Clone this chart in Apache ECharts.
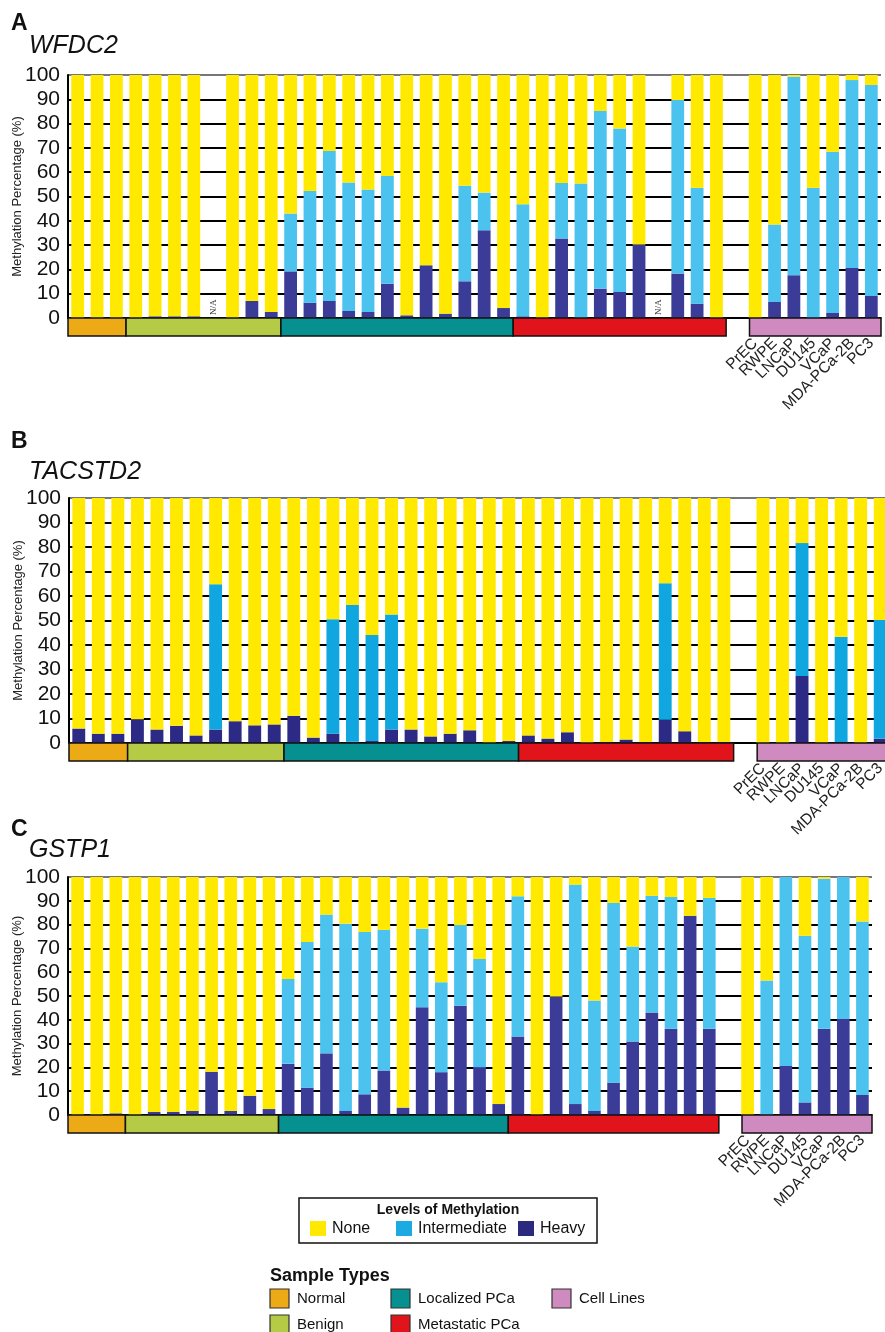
<!DOCTYPE html>
<html><head><meta charset="utf-8">
<script src="https://cdn.jsdelivr.net/npm/echarts@6/dist/echarts.min.js"></script>
<style>html,body{margin:0;padding:0;background:#fff}#c{width:885px;height:1332px}</style>
</head><body><div id="c"></div>
<script>
// ---------- data ----------
const panelLetters = ['A', 'B', 'C'];
const geneNames = ['WFDC2', 'TACSTD2', 'GSTP1'];
const levelNames = ['None', 'Intermediate', 'Heavy'];
const groupNames = ['Normal', 'Benign', 'Localized PCa', 'Metastatic PCa', 'Cell Lines'];
const groupSizes = [3, 8, 12, 11];
const cellLines = ['PrEC', 'RWPE', 'LNCaP', 'DU145', 'VCaP', 'MDA-PCa-2B', 'PC3'];
const yAxisName = 'Methylation Percentage (%)';

// 42 positions: 34 tissue samples, 1 empty slot, 7 cell lines. null = no bar
// Heavy methylation (%)
const heavyA = [0, 0, 0, 0, 0.7, 0.7, 0.7, null, 0, 7.0, 2.5,
  19.2, 6.3, 7.0, 2.9, 2.5, 14.1, 1.1, 21.7, 1.8, 15.1, 36.1, 4.1,
  0.7, 0, 32.7, 0, 12.1, 10.7, 30.2, null, 18.3, 5.9, 0,
  null,
  0, 6.6, 17.6, 0, 2.1, 20.6, 9.1];
// Intermediate methylation (%)
const interA = [0, 0, 0, 0, 0, 0, 0, null, 0, 0, 0,
  23.8, 46.0, 61.7, 52.9, 50.4, 44.3, 0, 0, 0, 39.3, 15.5, 0,
  46.1, 0, 22.9, 55.4, 73.1, 67.3, 0, null, 71.4, 47.7, 0,
  null,
  0, 31.9, 81.7, 53.6, 66.3, 77.3, 86.8];
const naA = [7, 30];

const heavyB = [5.9, 3.8, 3.8, 9.7, 5.5, 7.0, 3.1, 5.5, 8.9, 7.2, 7.6,
  11.1, 2.2, 3.8, 0.5, 0.8, 5.5, 5.5, 2.7, 3.8, 5.2, 0, 0.8,
  3.1, 1.8, 4.4, 0, 0.4, 1.4, 0.4, 9.5, 4.8, 0.4, 0.4,
  null,
  0, 0, 27.3, 0, 0.4, 0, 1.8];
const interB = [0, 0, 0, 0, 0, 0, 0, 59.3, 0, 0, 0,
  0, 0, 46.7, 55.8, 43.3, 47.0, 0, 0, 0, 0, 0, 0,
  0, 0, 0, 0, 0, 0, 0, 55.7, 0, 0, 0,
  null,
  0, 0, 54.3, 0, 43.0, 0, 48.4];
const naB = [];

const heavyC = [0, 0, 0.7, 0, 1.3, 1.3, 1.7, 18.2, 1.7, 8.1, 2.5,
  21.5, 11.5, 25.9, 1.7, 8.7, 18.7, 3.1, 45.3, 18.0, 45.9, 20.1, 4.6,
  33.0, 0, 49.8, 4.6, 1.7, 13.6, 30.9, 43.1, 36.2, 83.7, 36.2,
  null,
  0, 0, 20.6, 5.3, 36.2, 40.3, 8.4];
const interC = [0, 0, 0, 0, 0, 0, 0, 0, 0, 0, 0,
  35.6, 61.2, 58.3, 78.7, 68.2, 59.1, 0, 33.0, 37.8, 33.9, 45.4, 0,
  58.9, 0, 0, 92.2, 46.4, 75.5, 39.9, 49.0, 55.4, 0, 55.0,
  null,
  0, 56.5, 79.4, 70.0, 63.1, 59.7, 72.9];
const naC = [];

// ---------- styles ----------
const FONT = 'Liberation Sans, Arial, Helvetica, sans-serif';
const colNone = '#FFE900';
const colInter = ['#4CC3EF', '#10A7E0', '#4CC3EF'];
const colHeavy = ['#3A3C98', '#2D2A85', '#3A3C98'];
const groupColors = ['#EDAA17', '#B5CB45', '#06908F', '#E2141B', '#CF8BBF'];
const grids = [
  { left: 68, top: 75, width: 813, height: 243 },
  { left: 69, top: 498, width: 821, height: 245 },
  { left: 68, top: 877, width: 804, height: 238 }
];
const titleY = [[12, 34], [430, 460], [818, 838]];

// ---------- build ----------
const categories = [];
groupSizes.forEach((n, g) => { for (let i = 1; i <= n; i++) categories.push(groupNames[g] + ' ' + i); });
categories.push('(gap)');
cellLines.forEach(c => categories.push(c));

// group spans [start, end, colourIndex]
const spans = [];
let s0 = 0;
groupSizes.forEach((n, g) => { spans.push([s0, s0 + n - 1, g]); s0 += n; });
spans.push([s0 + 1, s0 + cellLines.length, 4]);

const heavy = [heavyA, heavyB, heavyC];
const inter = [interA, interB, interC];
const na = [naA, naB, naC];

const option = {
  animation: false,
  backgroundColor: '#fff',
  textStyle: { fontFamily: FONT },
  grid: grids.map(g => Object.assign({ containLabel: false, outerBoundsMode: 'none' }, g)),
  xAxis: grids.map((g, k) => ({
    type: 'category', gridIndex: k, data: categories,
    axisLine: { show: true, lineStyle: { color: '#000', width: 1.5 } },
    axisTick: { show: false },
    axisLabel: {
      interval: 0, rotate: 45, margin: 23, fontSize: 15.5, color: '#222', fontFamily: FONT,
      formatter: v => cellLines.includes(v) ? v : ''
    },
    splitLine: { show: false }
  })),
  yAxis: grids.map((g, k) => ({
    type: 'value', gridIndex: k, min: 0, max: 100, interval: 10,
    name: yAxisName, nameLocation: 'middle', nameRotate: 90, nameGap: 44, nameMoveOverlap: false,
    nameTextStyle: { fontSize: 13, color: '#222', fontFamily: FONT },
    axisLine: { show: true, lineStyle: { color: '#000', width: 2 } },
    axisTick: { show: false },
    axisLabel: { fontSize: 21, color: '#111', margin: 8, fontFamily: FONT },
    splitLine: { show: true, lineStyle: { color: ['#000','#000','#000','#000','#000','#000','#000','#000','#000','#000','#777'], width: 2 } }
  })),
  graphic: [],
  series: []
};

grids.forEach((g, k) => {
  const none = heavy[k].map((h, i) => h == null ? null : +(100 - h - inter[k][i]).toFixed(1));
  const common = { type: 'bar', xAxisIndex: k, yAxisIndex: k, stack: 'p' + k, barCategoryGap: '34%' };
  option.series.push(Object.assign({ name: levelNames[2], data: heavy[k], itemStyle: { color: colHeavy[k] } }, common));
  option.series.push(Object.assign({ name: levelNames[1], data: inter[k], itemStyle: { color: colInter[k] } }, common));
  option.series.push(Object.assign({ name: levelNames[0], data: none, itemStyle: { color: colNone } }, common));
  // sample-type boxes below the axis
  option.series.push({
    type: 'custom', xAxisIndex: k, yAxisIndex: k, z: 5, clip: false, silent: true,
    data: spans,
    renderItem: (params, api) => {
      const a = api.value(0), b = api.value(1), c = api.value(2);
      const bw = api.size([1, 0])[0];
      const p0 = api.coord([a, 0]), p1 = api.coord([b, 0]);
      const inset = c === 4 ? 4 : 0;
      return {
        type: 'rect',
        shape: { x: p0[0] - bw / 2 + inset, y: p0[1], width: p1[0] - p0[0] + bw - inset, height: 18 },
        style: { fill: groupColors[c], stroke: '#111', lineWidth: 1.5 }
      };
    }
  });
  if (na[k].length) {
    option.series.push({
      type: 'custom', xAxisIndex: k, yAxisIndex: k, z: 5, clip: false, silent: true,
      data: na[k].map(i => [i, 0]),
      renderItem: (params, api) => {
        const p = api.coord([api.value(0), 0]);
        return {
          type: 'text', x: p[0], y: p[1] - 3, rotation: Math.PI / 2,
          style: { text: 'N/A', fontSize: 9, fontFamily: 'Liberation Serif, DejaVu Serif, serif', fill: '#333', align: 'left', verticalAlign: 'middle' }
        };
      }
    });
  }
  option.graphic.push({ type: 'text', left: 11, top: titleY[k][0], style: { text: panelLetters[k], fontSize: 23, fontWeight: 'bold', fontFamily: FONT, fill: '#111' } });
  option.graphic.push({ type: 'text', left: 29, top: titleY[k][1], style: { text: geneNames[k], fontSize: 25, fontStyle: 'italic', fontFamily: FONT, fill: '#111' } });
});

// ---------- legends ----------
const legendLevelColors = [colNone, '#1BAAE2', '#2B2A7F'];
const lv = [];
lv.push({ type: 'rect', shape: { x: 299, y: 1198, width: 298, height: 45 }, style: { fill: '#fff', stroke: '#111', lineWidth: 1.5 } });
lv.push({ type: 'text', x: 448, y: 1210, style: { text: 'Levels of Methylation', fontSize: 14, fontWeight: 'bold', fontFamily: FONT, fill: '#111', align: 'center', verticalAlign: 'middle' } });
const lvX = [310, 396, 518];
levelNames.forEach((n, i) => {
  lv.push({ type: 'rect', shape: { x: lvX[i], y: 1221, width: 16, height: 15 }, style: { fill: legendLevelColors[i] } });
  lv.push({ type: 'text', x: lvX[i] + 22, y: 1229, style: { text: n, fontSize: 16, fontFamily: FONT, fill: '#111', verticalAlign: 'middle' } });
});
lv.push({ type: 'text', x: 270, y: 1276, style: { text: 'Sample Types', fontSize: 18, fontWeight: 'bold', fontFamily: FONT, fill: '#111', verticalAlign: 'middle' } });
const stPos = [[270, 1289], [270, 1315], [391, 1289], [391, 1315], [552, 1289]];
groupNames.forEach((n, i) => {
  const p = stPos[i];
  lv.push({ type: 'rect', shape: { x: p[0], y: p[1], width: 19, height: 19 }, style: { fill: groupColors[i], stroke: '#333', lineWidth: 1.2 } });
  lv.push({ type: 'text', x: p[0] + 27, y: p[1] + 10, style: { text: n, fontSize: 15, fontFamily: FONT, fill: '#111', verticalAlign: 'middle' } });
});
option.graphic = option.graphic.concat(lv);

const chart = echarts.init(document.getElementById('c'), null, { renderer: 'canvas' });
chart.setOption(option);
</script></body></html>
